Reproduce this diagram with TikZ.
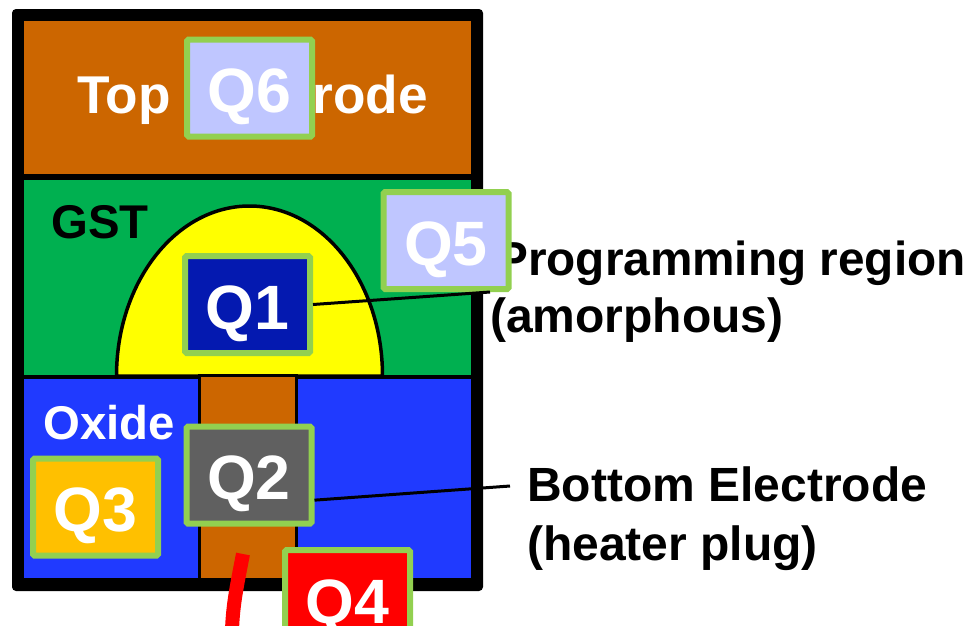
\documentclass[tikz,border=0pt]{standalone}
\usepackage{fontspec}
\setmainfont{Liberation Sans}
\definecolor{brownc}{HTML}{CC6600}
\definecolor{greenc}{HTML}{00B050}
\definecolor{bluec}{HTML}{203AFF}
\definecolor{qedge}{HTML}{92D050}
\definecolor{qlav}{HTML}{BFC6FF}
\definecolor{qnavy}{HTML}{0419B0}
\definecolor{qgrey}{HTML}{606060}
\definecolor{qamber}{HTML}{FFC000}
\definecolor{domey}{RGB}{255,255,0}
\definecolor{pure}{RGB}{255,0,0}
\newlength{\px}\setlength{\px}{0.75pt}
\tikzset{
  x=\px,y=-\px,
  qbox/.style={draw=qedge,line width=6\px,rounded corners=1.5\px,minimum width=125\px,minimum height=97\px,inner sep=0pt,outer sep=3\px,text=white,text height=49\px,text depth=0pt,font=\bfseries\fontsize{47}{50}\selectfont},
  lab/.style={anchor=base west,inner sep=0pt,font=\bfseries\fontsize{36}{40}\selectfont},
  leader/.style={draw=black,line width=3\px},
}
\begin{document}
\begin{tikzpicture}
\useasboundingbox (0,0) rectangle (969,625);
\clip (0,0) rectangle (969,625);
\fill[white] (0,0) rectangle (969,625);
\fill[black,rounded corners=4\px] (12,9) rectangle (483,591);
\fill[brownc] (24,21) rectangle (471,173.5);
\fill[greenc] (24,180) rectangle (471,375);
\fill[bluec] (24,379) rectangle (471,578);
\draw[black,line width=3.5\px,fill=domey] (116.5,376) arc[start angle=180,end angle=360,x radius=133,y radius=170] -- cycle;
\fill[black] (24,375) rectangle (471,379);
\draw[black,line width=2.5\px,fill=brownc] (199.5,578) -- (199.5,375.5) -- (296.5,375.5) -- (296.5,578);
\draw[pure,line width=14\px] (243,554) .. controls (236,590) and (233,605) .. (232,630);
\node[lab,font=\bfseries\fontsize{39.9}{42}\selectfont,text=white] (top) at (77,113.5) {Top Electrode};
\node[lab,font=\bfseries\fontsize{35.5}{40}\selectfont,text=black] (gst) at (51,238) {GST};
\node[lab,font=\bfseries\fontsize{35.5}{40}\selectfont,text=white] (oxide) at (43,439) {Oxide};
\node[lab,font=\bfseries\fontsize{35.8}{40}\selectfont] (prog) at (496,275) {Programming region};
\node[lab] (amor) at (490,332) {(amorphous)};
\node[lab] (bot) at (527,501) {Bottom Electrode};
\node[lab] (heat) at (527,560) {(heater plug)};
\coordinate (progend) at (490,292);
\coordinate (botend) at (510,486);
\node[qbox,fill=qlav] (q6) at (249.5,88) {Q6};
\node[qbox,fill=qlav] (q5) at (446,240.5) {Q5};
\node[qbox,fill=qnavy] (q1) at (247.5,304.5) {Q1};
\node[qbox,fill=qgrey] (q2) at (249,475) {Q2};
\node[qbox,fill=qamber] (q3) at (95.5,507) {Q3};
\node[qbox,fill=pure] (q4) at (347.5,598.5) {Q4};
\draw[leader] (q1.east) -- (progend);
\draw[leader] (q2.-21) -- (botend);
\end{tikzpicture}
\end{document}
